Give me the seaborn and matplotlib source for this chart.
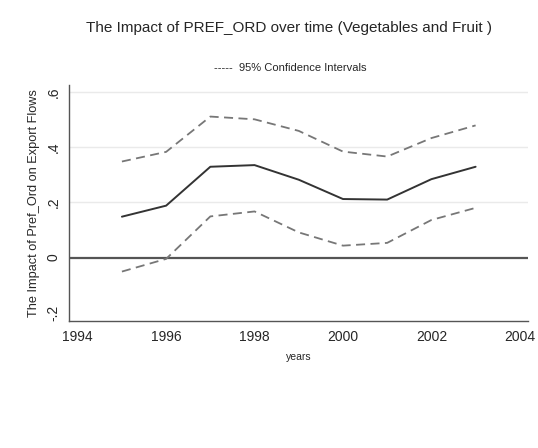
import numpy as np
import pandas as pd
import matplotlib
matplotlib.use("Agg")
import matplotlib.pyplot as plt
import seaborn as sns

years = [1995, 1996, 1997, 1998, 1999, 2000, 2001, 2002, 2003]
impact = [0.148, 0.188, 0.329, 0.335, 0.282, 0.212, 0.210, 0.284, 0.329]
upper_ci = [0.348, 0.383, 0.511, 0.501, 0.459, 0.384, 0.366, 0.433, 0.479]
lower_ci = [-0.051, -0.005, 0.149, 0.167, 0.091, 0.043, 0.053, 0.136, 0.180]

ytick_vals = [-0.2, 0, 0.2, 0.4, 0.6]
ytick_labels = ["-.2", "0", ".2", ".4", ".6"]
xtick_vals = [1994, 1996, 1998, 2000, 2002, 2004]

df = pd.DataFrame({"years": years, "impact": impact, "upper": upper_ci, "lower": lower_ci})

sns.set_style("white")
plt.rcParams["font.family"] = ["Liberation Sans", "DejaVu Sans"]

fig = plt.figure(figsize=(5.38, 4.48), dpi=100)
ax = fig.add_axes([0.128, 0.283, 0.853, 0.527])

# grid + zero line
for v in [0.2, 0.4, 0.6]:
    ax.axhline(v, color="#eaeaea", lw=1.0, zorder=0)
ax.axhline(0, color="#555555", lw=1.6, zorder=1)

sns.lineplot(data=df, x="years", y="upper", ax=ax, color="#777777", lw=1.3, linestyle=(0, (5, 3)))
sns.lineplot(data=df, x="years", y="lower", ax=ax, color="#777777", lw=1.3, linestyle=(0, (5, 3)))
sns.lineplot(data=df, x="years", y="impact", ax=ax, color="#333333", lw=1.4)

ax.set_xlim(1993.8, 2004.18)
ax.set_ylim(-0.231, 0.625)
ax.set_xticks(xtick_vals)
ax.set_xticklabels([str(x) for x in xtick_vals], fontsize=10)
ax.set_yticks(ytick_vals)
ax.set_yticklabels(ytick_labels, fontsize=10, rotation=90, va="center")

for s in ["top", "right"]:
    ax.spines[s].set_visible(False)
for s in ["left", "bottom"]:
    ax.spines[s].set_color("#555555")
    ax.spines[s].set_linewidth(1.0)
ax.tick_params(axis="both", direction="out", length=4, width=0.8, color="#555555", pad=2)

ax.set_xlabel("years", fontsize=7.5, labelpad=6)
ax.set_ylabel("The Impact of Pref_Ord on Export Flows", fontsize=9.2, labelpad=5)

fig.text(0.538, 0.937, "The Impact of PREF_ORD over time (Vegetables and Fruit )",
         ha="center", va="center", fontsize=11)
fig.text(0.54, 0.848, "-----  95% Confidence Intervals", ha="center", va="center", fontsize=8)

fig.savefig("out.png", dpi=100)
